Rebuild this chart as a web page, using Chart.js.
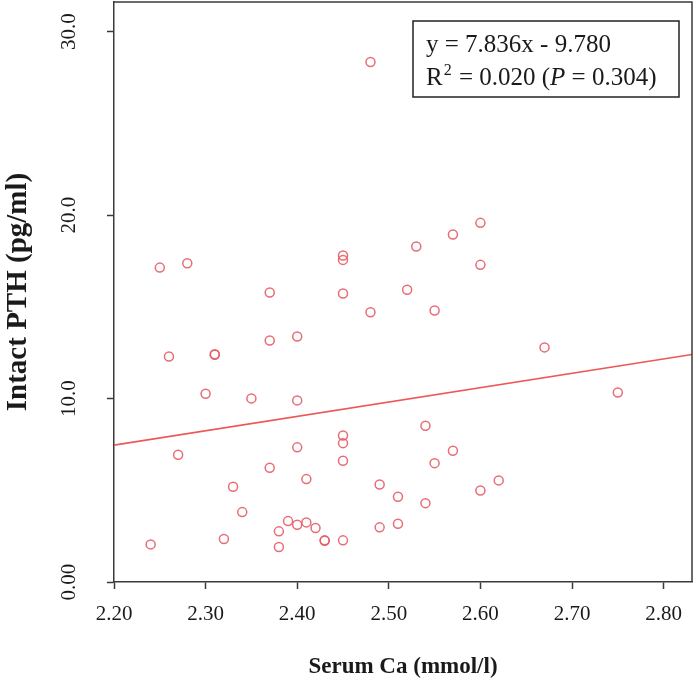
<!DOCTYPE html>
<html>
<head>
<meta charset="utf-8">
<script src="https://cdn.jsdelivr.net/npm/chart.js@4.4.1/dist/chart.umd.min.js"></script>
<style>
    body { margin: 0; background: #fff; }
    canvas { display: block; }
</style>
</head>
<body>
<canvas id="scatterChart" width="696" height="693"></canvas>
<script>
// serum Ca (mmol/l) and intact PTH (pg/ml), one entry per patient
const caValues = [
    2.24, 2.25, 2.26, 2.27, 2.28, 2.30, 2.31, 2.31, 2.32, 2.33,
    2.34, 2.35, 2.37, 2.37, 2.37, 2.38, 2.38, 2.39, 2.40, 2.40,
    2.40, 2.40, 2.41, 2.41, 2.42, 2.43, 2.43, 2.45, 2.45, 2.45,
    2.45, 2.45, 2.45, 2.45, 2.48, 2.48, 2.49, 2.49, 2.51, 2.51,
    2.52, 2.53, 2.54, 2.54, 2.55, 2.55, 2.57, 2.57, 2.60, 2.60,
    2.60, 2.62, 2.67, 2.75
];
const pthValues = [
    2.05, 17.14, 12.29, 6.94, 17.38, 10.26, 12.39, 12.42, 2.34, 5.19,
    3.81, 10.01, 15.78, 13.17, 6.23, 2.76, 1.91, 3.32, 13.38, 9.90,
    7.34, 3.12, 5.61, 3.25, 2.94, 2.25, 2.27, 17.80, 17.56, 15.73,
    7.99, 7.57, 6.61, 2.27, 28.35, 14.71, 5.32, 2.98, 4.65, 3.18,
    15.93, 18.29, 8.52, 4.30, 14.80, 6.48, 18.94, 7.16, 19.58, 17.29,
    4.99, 5.54, 12.79, 10.33
];

const xTickValues = [2.2, 2.3, 2.4, 2.5, 2.6, 2.7, 2.8];
const xTickLabels = ["2.20", "2.30", "2.40", "2.50", "2.60", "2.70", "2.80"];
const yTickValues = [0, 10, 20, 30];
const yTickLabels = ["0.00", "10.0", "20.0", "30.0"];

const slope = 7.836;
const intercept = -9.780;
const rSquared = "0.020";
const pValue = "0.304";

const xMin = 2.2, xMax = 2.831;
const yMin = 0, yMax = 31.62;

const serif = "'Liberation Serif', 'Times New Roman', serif";
const pointColor = 'rgba(230, 92, 102, 0.9)';
const lineColor = '#ef5656';
const axisColor = '#3a3a3a';

function buildPoints() {
    return caValues.map((ca, i) => ({ x: ca, y: pthValues[i] }));
}

function fitLine() {
    return [xMin, xMax].map(x => ({ x: x, y: slope * x + intercept }));
}

function noScalePadding(scale) {
    scale.paddingTop = 0;
    scale.paddingBottom = 0;
    scale.paddingLeft = 0;
    scale.paddingRight = 0;
}

// top + right edges of the frame, and the equation box
const framePlugin = {
    id: 'frame',
    afterDraw(chart) {
        const { ctx, chartArea: a } = chart;
        ctx.save();
        ctx.strokeStyle = axisColor;
        ctx.lineWidth = 1.5;
        ctx.beginPath();
        ctx.moveTo(a.left, a.top);
        ctx.lineTo(a.right, a.top);
        ctx.lineTo(a.right, a.bottom);
        ctx.stroke();

        ctx.fillStyle = '#fff';
        ctx.fillRect(413, 21, 266, 76);
        ctx.strokeStyle = '#222';
        ctx.strokeRect(413, 21, 266, 76);

        ctx.fillStyle = '#1a1a1a';
        ctx.textBaseline = 'alphabetic';
        ctx.textAlign = 'left';
        ctx.font = '25px ' + serif;
        ctx.fillText('y = ' + slope.toFixed(3) + 'x - ' + Math.abs(intercept).toFixed(3), 426, 52);

        let x = 426;
        const y = 85;
        ctx.fillText('R', x, y);
        x += ctx.measureText('R').width;
        ctx.font = '16px ' + serif;
        ctx.fillText('2', x + 1, y - 10);
        x += ctx.measureText('2').width + 2;
        ctx.font = '25px ' + serif;
        let s = ' = ' + rSquared + ' (';
        ctx.fillText(s, x, y);
        x += ctx.measureText(s).width;
        ctx.font = 'italic 25px ' + serif;
        ctx.fillText('P', x, y);
        x += ctx.measureText('P').width;
        ctx.font = '25px ' + serif;
        ctx.fillText(' = ' + pValue + ')', x, y);
        ctx.restore();
    }
};

const ctx = document.getElementById('scatterChart').getContext('2d');
new Chart(ctx, {
    type: 'scatter',
    plugins: [framePlugin],
    data: {
        datasets: [
            {
                data: buildPoints(),
                pointStyle: 'circle',
                pointRadius: 4.5,
                pointBorderWidth: 1.5,
                pointBorderColor: pointColor,
                pointBackgroundColor: 'rgba(0,0,0,0)',
                showLine: false
            },
            {
                data: fitLine(),
                showLine: true,
                pointRadius: 0,
                borderColor: lineColor,
                borderWidth: 1.6,
                fill: false
            }
        ]
    },
    options: {
        responsive: false,
        animation: false,
        layout: { autoPadding: false, padding: { top: 2, right: 4, left: 0, bottom: 0 } },
        plugins: {
            legend: { display: false },
            tooltip: { enabled: false }
        },
        scales: {
            x: {
                type: 'linear',
                min: xMin,
                max: xMax,
                afterBuildTicks(scale) {
                    scale.ticks = xTickValues.map(v => ({ value: v }));
                },
                afterFit(scale) {
                    scale.height = 111;
                    noScalePadding(scale);
                },
                ticks: {
                    color: '#1a1a1a',
                    padding: 13,
                    maxRotation: 0,
                    font: { family: serif, size: 21 },
                    callback(value, index) {
                        return xTickLabels[index];
                    }
                },
                grid: {
                    drawOnChartArea: false,
                    drawTicks: true,
                    tickLength: 7,
                    tickColor: axisColor,
                    tickWidth: 1.5
                },
                border: { display: true, color: axisColor, width: 1.5 },
                title: {
                    display: true,
                    text: 'Serum Ca (mmol/l)',
                    color: '#1a1a1a',
                    font: { family: serif, size: 23, weight: 'bold' },
                    padding: { top: 0, bottom: 12 }
                }
            },
            y: {
                type: 'linear',
                min: yMin,
                max: yMax,
                afterBuildTicks(scale) {
                    scale.ticks = yTickValues.map(v => ({ value: v }));
                },
                afterFit(scale) {
                    scale.width = 114;
                    noScalePadding(scale);
                },
                ticks: {
                    color: '#1a1a1a',
                    padding: 19,
                    minRotation: 90,
                    maxRotation: 90,
                    crossAlign: 'center',
                    font: { family: serif, size: 21 },
                    callback(value, index) {
                        return yTickLabels[index];
                    }
                },
                grid: {
                    drawOnChartArea: false,
                    drawTicks: true,
                    tickLength: 7,
                    tickColor: axisColor,
                    tickWidth: 1.5
                },
                border: { display: true, color: axisColor, width: 1.5 },
                title: {
                    display: true,
                    text: 'Intact PTH (pg/ml)',
                    color: '#1a1a1a',
                    font: { family: serif, size: 29, weight: 'bold' },
                    padding: { top: 1, bottom: 0 }
                }
            }
        }
    }
});
</script>
</body>
</html>
